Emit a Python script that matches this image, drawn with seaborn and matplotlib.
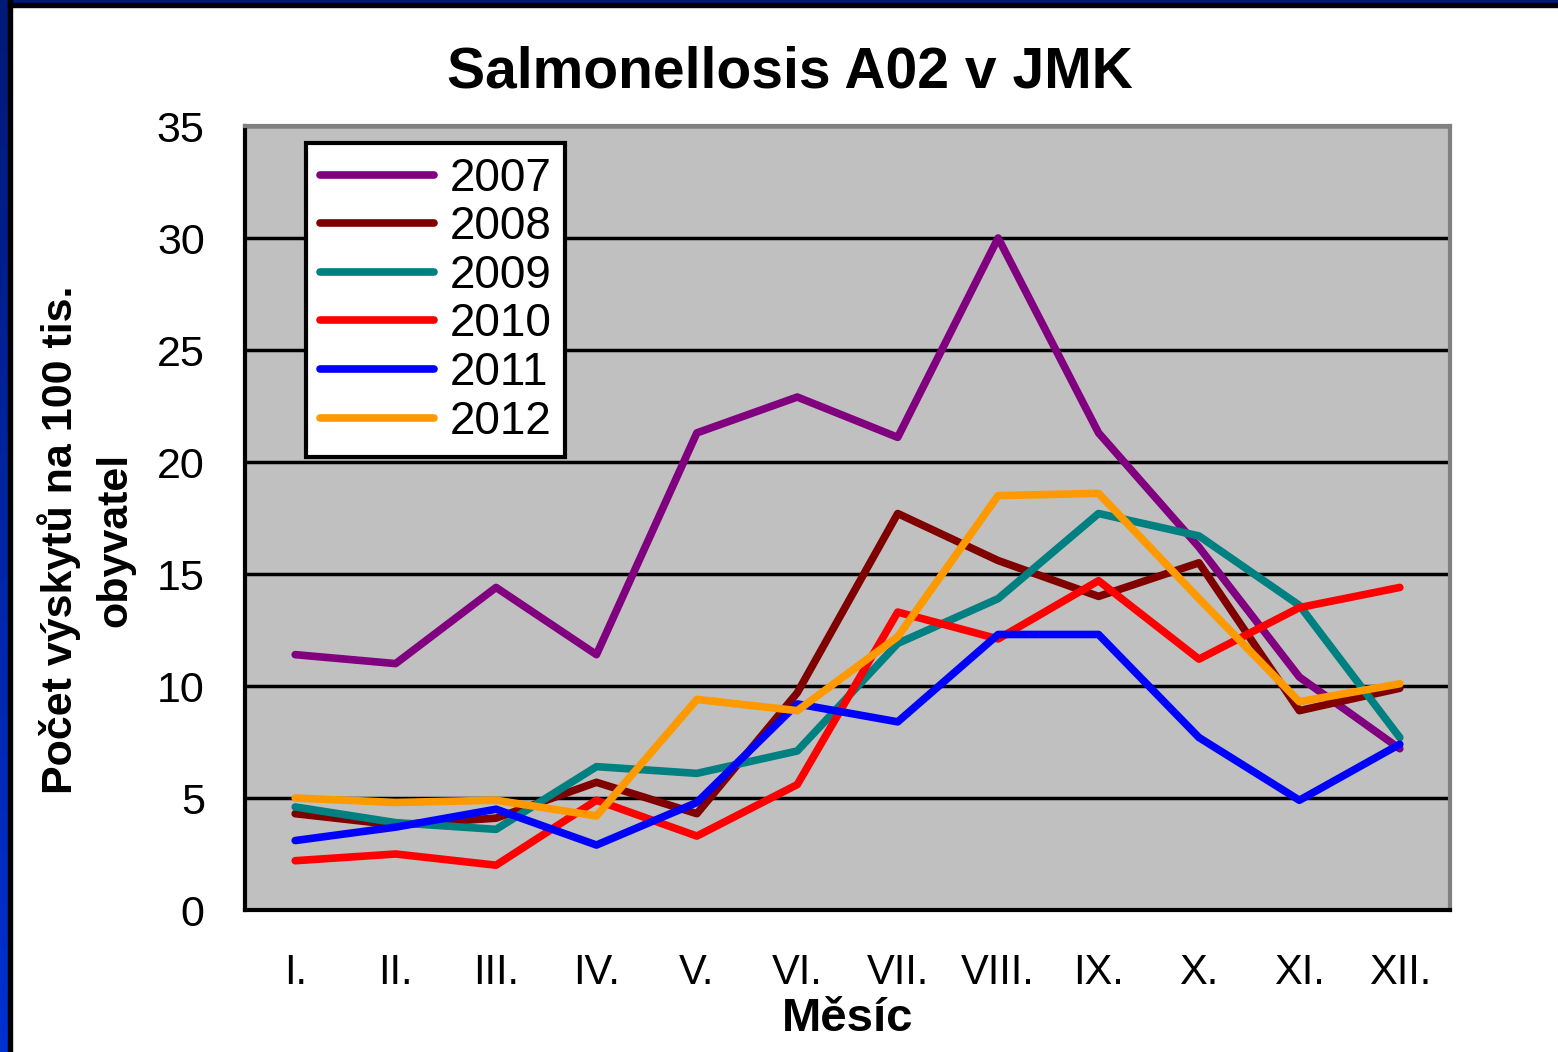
import numpy as np
import pandas as pd
import matplotlib
matplotlib.use('Agg')
import matplotlib.pyplot as plt
import seaborn as sns
from matplotlib.colors import LinearSegmentedColormap

# Data
mesice = ['I.', 'II.', 'III.', 'IV.', 'V.', 'VI.', 'VII.', 'VIII.', 'IX.', 'X.', 'XI.', 'XII.']
roky = ['2007', '2008', '2009', '2010', '2011', '2012']
r2007 = [11.4, 11.0, 14.4, 11.4, 21.3, 22.9, 21.1, 30.0, 21.3, 16.2, 10.4, 7.2]
r2008 = [4.3, 3.8, 4.1, 5.7, 4.3, 9.7, 17.7, 15.6, 14.0, 15.5, 8.9, 9.9]
r2009 = [4.6, 3.9, 3.6, 6.4, 6.1, 7.1, 11.9, 13.9, 17.7, 16.7, 13.6, 7.7]
r2010 = [2.2, 2.5, 2.0, 4.9, 3.3, 5.6, 13.3, 12.1, 14.7, 11.2, 13.5, 14.4]
r2011 = [3.1, 3.7, 4.5, 2.9, 4.8, 9.2, 8.4, 12.3, 12.3, 7.7, 4.9, 7.4]
r2012 = [5.0, 4.8, 4.9, 4.2, 9.4, 8.9, 12.2, 18.5, 18.6, 13.9, 9.3, 10.1]
barvy = ['#800080', '#800000', '#008080', '#FF0000', '#0000FF', '#FF9900']

serie = [r2007, r2008, r2009, r2010, r2011, r2012]
df = pd.DataFrame({
    'mesic': np.tile(np.arange(len(mesice)), len(roky)),
    'hodnota': np.concatenate(serie),
    'rok': np.repeat(roky, len(mesice)),
})

sns.set_style('white')
plt.rcParams['font.family'] = ['Liberation Sans', 'DejaVu Sans']
for k in ['text.color', 'axes.labelcolor', 'xtick.color', 'ytick.color']:
    plt.rcParams[k] = 'black'

fig = plt.figure(figsize=(15.58, 10.52), dpi=100)
W, H = 1558, 1052

# ramecek slidu: modry prechod vlevo, tmave modra nahore, cerna vnitrni linka
grad = LinearSegmentedColormap.from_list('modra', ['#001a78', '#0030d0'])
ax_l = fig.add_axes([0, 0, 8 / W, 1])
ax_l.imshow(np.linspace(0, 1, 100).reshape(-1, 1), aspect='auto', cmap=grad)
ax_l.axis('off')
ax_t = fig.add_axes([0, 1 - 3 / H, 1, 3 / H])
ax_t.axis('off')
ax_t.add_patch(plt.Rectangle((0, 0), 1, 1, color='#001a78', transform=ax_t.transAxes))
fig.patches.append(plt.Rectangle((8 / W, 0), 4 / W, 1, transform=fig.transFigure,
                                 color='black', zorder=5))
fig.patches.append(plt.Rectangle((8 / W, 1 - 7 / H), 1, 4 / H, transform=fig.transFigure,
                                 color='black', zorder=5))

ax = fig.add_axes([245 / W, 1 - 910 / H, 1205 / W, 784 / H])
ax.set_facecolor('#C0C0C0')

sns.lineplot(data=df, x='mesic', y='hodnota', hue='rok', palette=barvy,
             linewidth=5.5, ax=ax, sort=False, zorder=3)

ax.set_xlim(-0.5, 11.5)
ax.set_ylim(0, 35)
ax.set_yticks(range(0, 36, 5))
ax.set_xticks(range(len(mesice)))
ax.set_xticklabels(mesice, fontsize=30)
ax.set_xticks(np.arange(-0.5, 12, 1), minor=True)
ax.tick_params(axis='x', which='major', length=0, pad=31)
ax.tick_params(axis='x', which='minor', length=11, width=2.5, color='black', direction='out')
ax.tick_params(axis='y', length=12, width=2.5, color='black', direction='out', labelsize=31, pad=17)
ax.yaxis.grid(True, color='black', linewidth=2.5, zorder=1)
ax.set_axisbelow(True)

for s in ['left', 'bottom']:
    ax.spines[s].set_color('black')
    ax.spines[s].set_linewidth(3)
for s in ['top', 'right']:
    ax.spines[s].set_color('#808080')
    ax.spines[s].set_linewidth(3)

ax.set_xlabel('Měsíc', fontsize=34, fontweight='bold', labelpad=3)
ax.set_ylabel('Počet výskytů na 100 tis.\nobyvatel', fontsize=31, fontweight='bold',
              linespacing=1.45)
ax.yaxis.set_label_coords(-0.091, 0.472)
fig.text(790 / W, 1 - 72 / H, 'Salmonellosis A02 v JMK', fontsize=41, fontweight='bold',
         ha='center', va='center')

leg = ax.legend(loc='upper left', bbox_to_anchor=(61 / 1205, 1 - 17 / 784), fontsize=33,
                frameon=True, fancybox=False, edgecolor='black', framealpha=1,
                handlelength=2.5, handletextpad=0.33, labelspacing=0.1,
                borderpad=0.3, borderaxespad=0)
leg.get_frame().set_linewidth(3)
leg.set_zorder(10)

fig.savefig('out.png', dpi=100, facecolor='white')
